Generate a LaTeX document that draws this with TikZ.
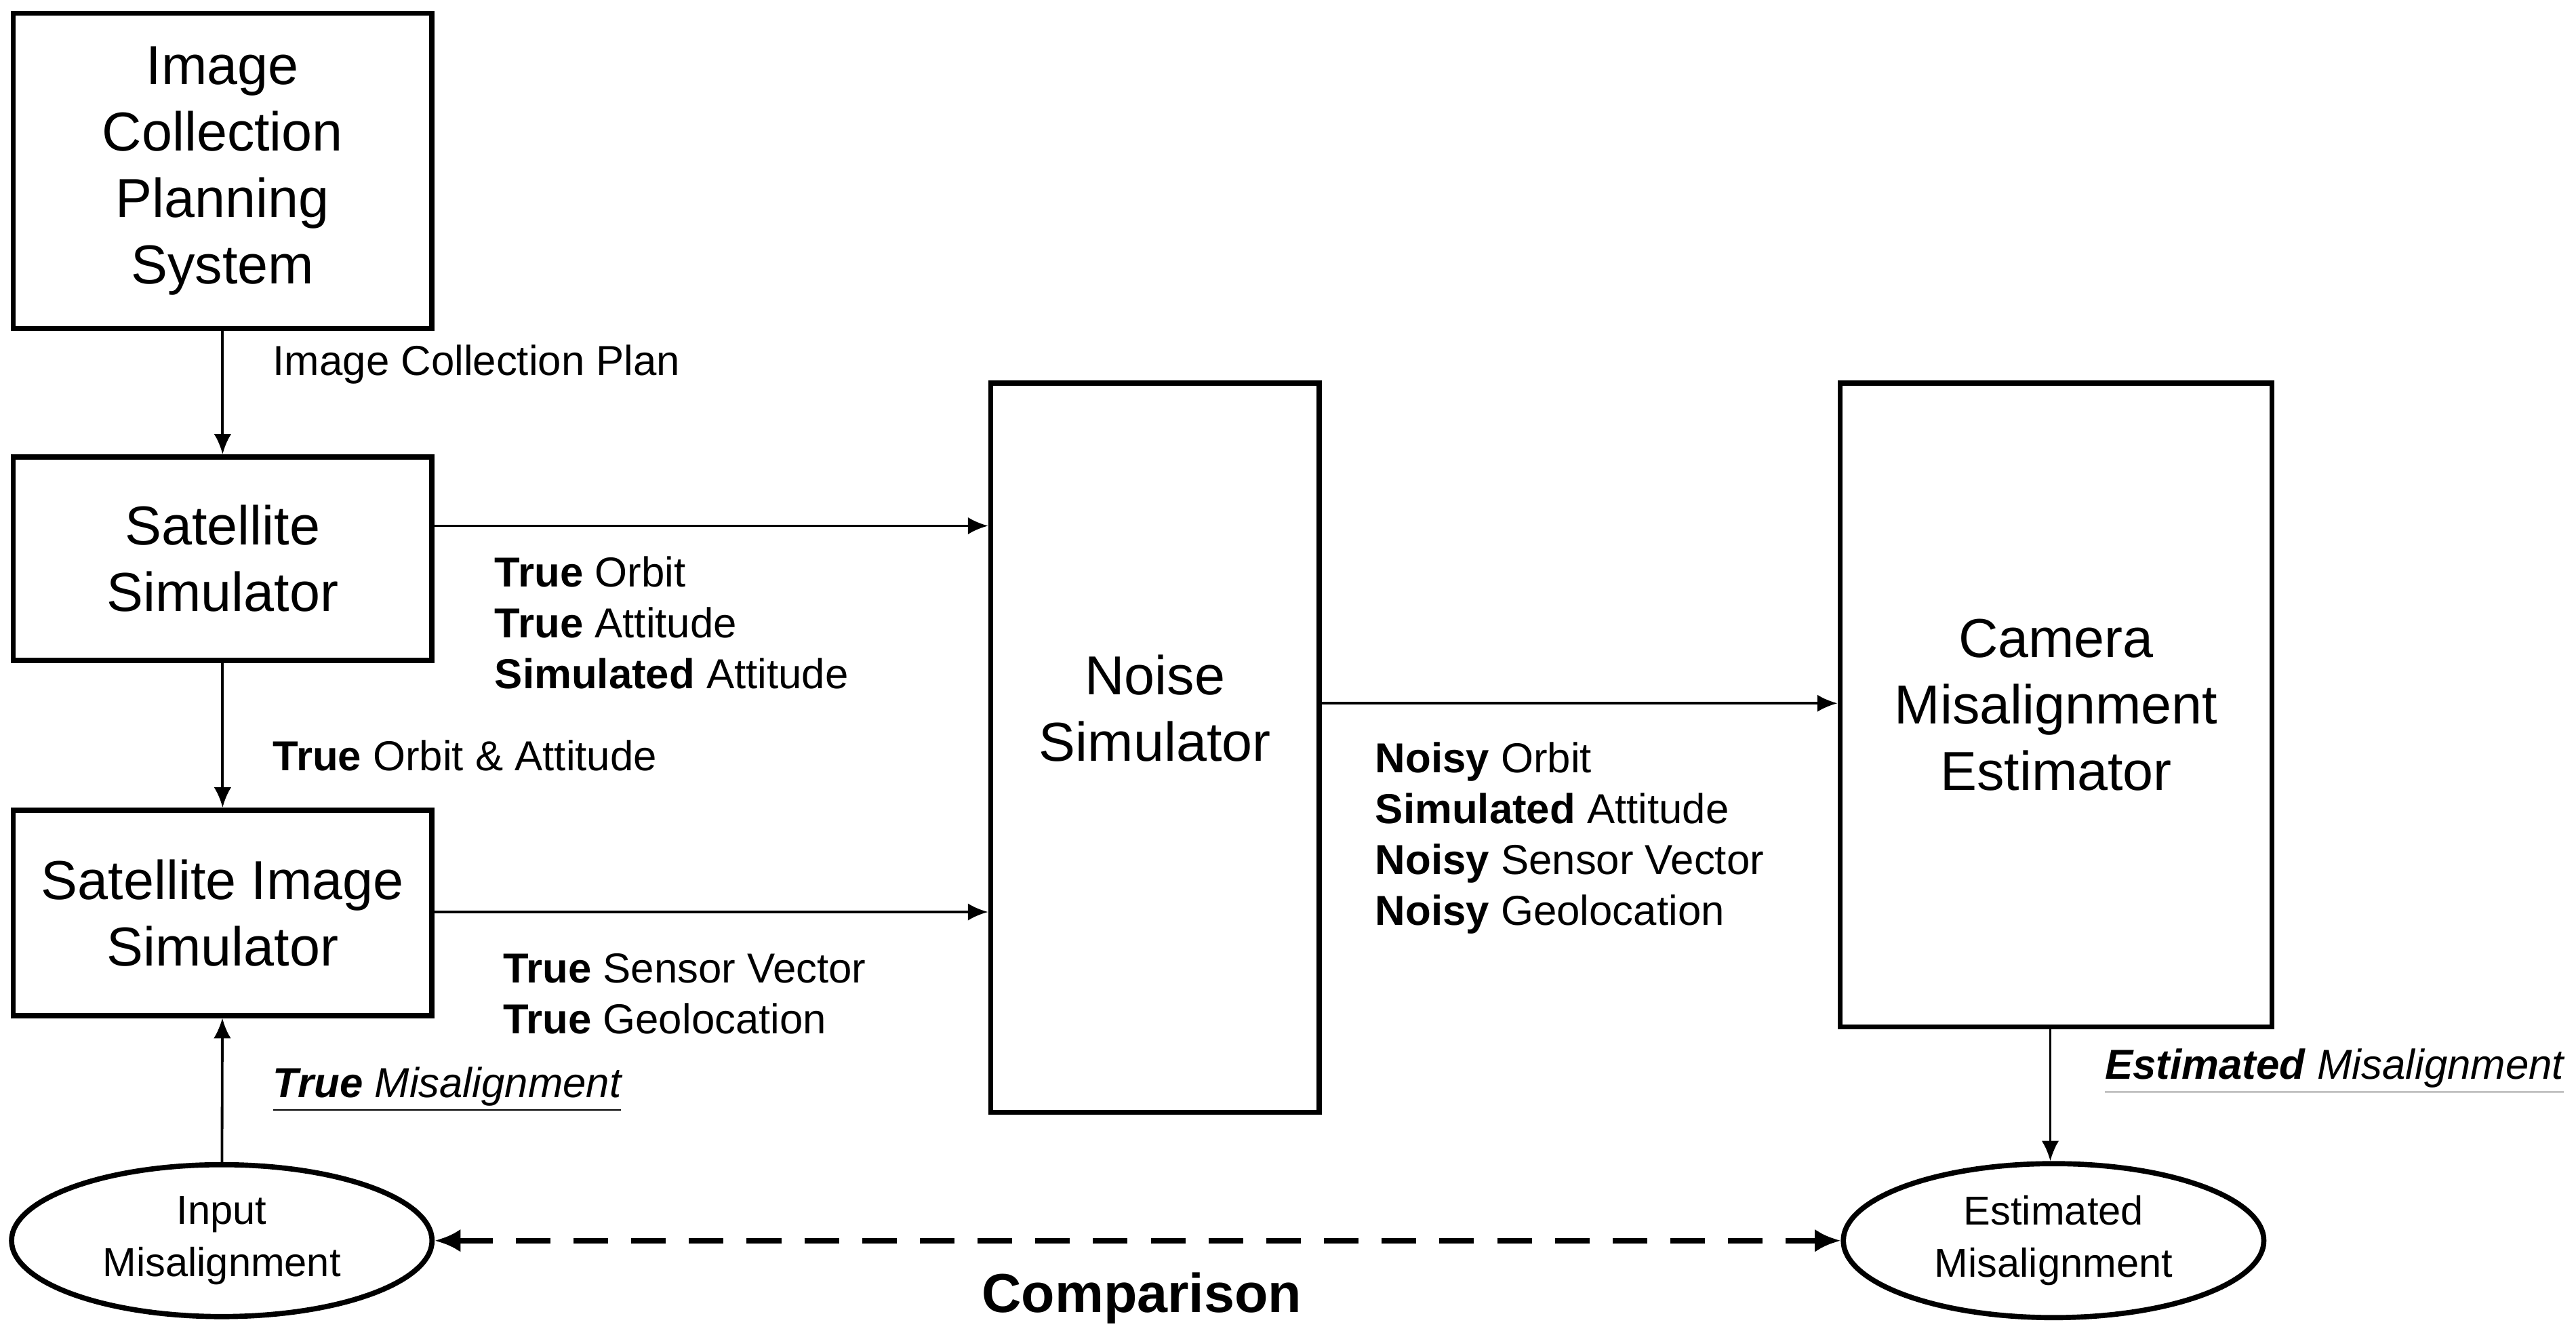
\documentclass[tikz,border=0pt]{standalone}
\usepackage{fontspec}
\setmainfont{Liberation Sans}
\usetikzlibrary{arrows.meta,shapes.geometric}

\begin{document}
\begin{tikzpicture}[x=0.02cm,y=-0.02cm,
    blk/.style={draw, line width=1.8pt, align=center, font=\fontsize{19}{23}\selectfont},
    oval/.style={draw, ellipse, line width=1.8pt, minimum width=5.12cm, minimum height=1.8cm, align=center, font=\fontsize{14}{18}\selectfont},
    lbl/.style={anchor=west, align=left, font=\fontsize{14.5}{17.6}\selectfont},
    arr/.style={-{Latex[length=7pt,width=6pt]}, line width=0.9pt}]
    \useasboundingbox (0,0) rectangle (1568,810);
    \node[blk, minimum width=5.1cm, minimum height=3.84cm] (plan) at (135.5,104) {Image\\Collection\\Planning\\System};
    \node[blk, minimum width=5.1cm, minimum height=2.48cm] (sat) at (135.5,340) {Satellite\\Simulator};
    \node[blk, minimum width=5.1cm, minimum height=2.5cm] (img) at (135.5,555.5) {Satellite Image\\Simulator};
    \node[blk, minimum width=4cm, minimum height=8.88cm] (noise) at (703,455) {};
    \node[blk, draw=none] (noisetxt) at (703,431) {Noise\\Simulator};
    \node[blk, minimum width=5.26cm, minimum height=7.84cm] (cam) at (1251.5,429) {Camera\\Misalignment\\Estimator};
    \node[oval] (inp) at (135,755) {Input\\Misalignment};
    \node[oval] (est) at (1250,755) {Estimated\\Misalignment};
    % connectors
    \draw[arr] (plan) -- (sat);
    \draw[arr] (sat) -- (img);
    \draw[arr] (inp) -- (img);
    \draw[arr] (sat.east |- 0,320) -- (noise.west |- 0,320);
    \draw[arr] (img.east |- 0,555) -- (noise.west |- 0,555);
    \draw[arr] (noise.east |- 0,428) -- (cam.west |- 0,428);
    \draw[arr] (cam.south -| 1248,0) -- (est.north -| 1248,0);
    \draw[{Latex[length=9pt,width=8pt]}-{Latex[length=9pt,width=8pt]}, line width=1.8pt, dash pattern=on 12pt off 8pt] (inp) -- (est);
    % labels
    \node[lbl] (lplan) at (160,222) {Image Collection Plan};
    \node[lbl] (lsat) at (295,379) {\textbf{True} Orbit\\\textbf{True} Attitude\\\textbf{Simulated} Attitude};
    \node[lbl] (lorb) at (160,460) {\textbf{True} Orbit \& Attitude};
    \node[lbl] (limg) at (300,605) {\textbf{True} Sensor Vector\\\textbf{True} Geolocation};
    \node[lbl] (lnoise) at (831,510) {\textbf{Noisy} Orbit\\\textbf{Simulated} Attitude\\\textbf{Noisy} Sensor Vector\\\textbf{Noisy} Geolocation};
    \node[lbl] (ltrue) at (160,663) {\underline{\textbf{\itshape True} \itshape Misalignment}};
    \node[lbl] (lest) at (1275,652) {\underline{\textbf{\itshape Estimated} \itshape Misalignment}};
    \node[font=\fontsize{19}{23}\selectfont\bfseries] (cmp) at (695,790) {Comparison};
\end{tikzpicture}
\end{document}
